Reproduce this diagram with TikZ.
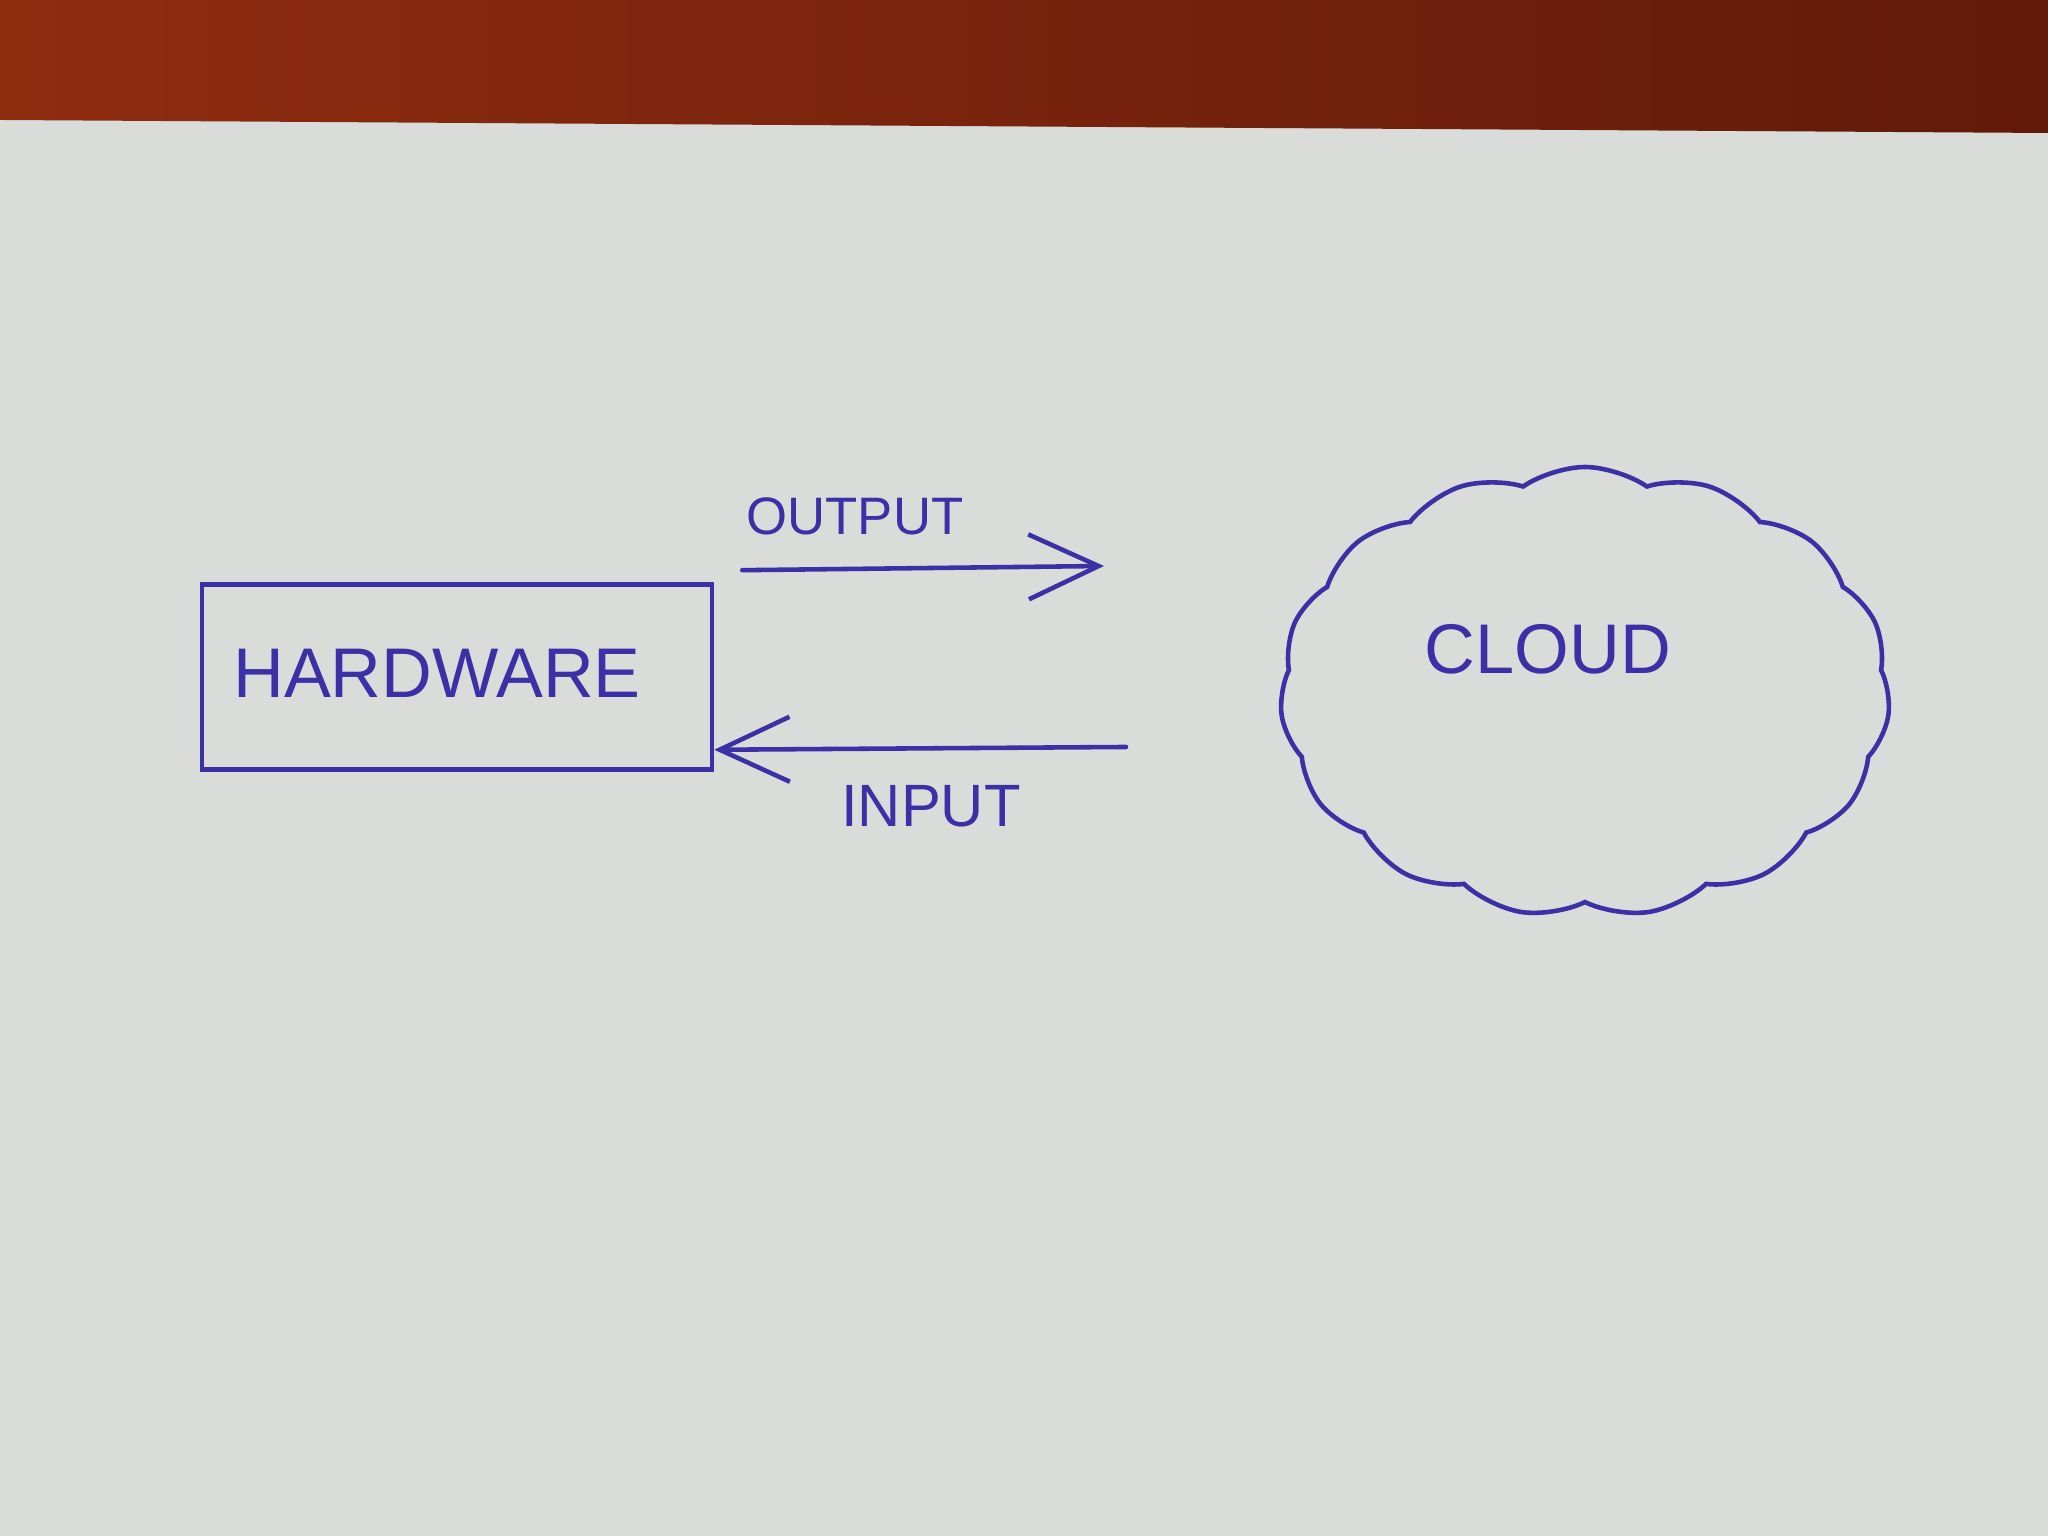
\documentclass[tikz,border=0pt]{standalone}
\usepackage{fontspec}
\setmainfont{Liberation Sans}
\usepackage{tikz}
\usetikzlibrary{arrows.meta,positioning,shapes.symbols}
\usepackage{xcolor}
\definecolor{pen}{HTML}{3B30A6}
\definecolor{paper}{HTML}{DADCD9}
\definecolor{desk}{HTML}{8E2C10}
\definecolor{deskdark}{HTML}{621A09}

\begin{document}
\begin{tikzpicture}[
  ink/.style={draw=pen,line width=1.3pt,line cap=round},
  barb/.style={pen,line width=1.3pt,line cap=round,-{Straight Barb[length=7mm,width=6.5mm]}},
  word/.style={text=pen,font=\fontsize{#1}{#1}\selectfont},
]
  % sheet of paper on the desk
  \fill[paper] (0,0) rectangle (20.48,15.36);
  \shade[left color=desk,middle color=desk!85!deskdark,right color=deskdark]
     (0,15.36) -- (20.48,15.36) -- (20.48,14.03) -- (0,14.16) -- cycle;
  \useasboundingbox (0,0) rectangle (20.48,15.36);
  % the two blocks
  \node[ink,minimum width=5.1cm,minimum height=1.85cm] (hw) at (4.57,8.59) {};
  \node[word=20] (hwtext) at (4.37,8.63) {HARDWARE};
  \node[ink,cloud,cloud puffs=15,cloud puff arc=70,cloud ignores aspect,
        minimum width=6.1cm,minimum height=4.5cm] (cl) at (15.85,8.44) {};
  \node[word=20] (cltext) at (15.48,8.87) {CLOUD};
  % data going out and coming back
  \coordinate (outEnd) at (11.04,9.70);
  \coordinate (inStart) at (11.26,7.89);
  \draw[barb] ([xshift=0.28cm,yshift=0.12cm]hw.north east) -- (outEnd);
  \node[word=15] (outlbl) at (8.55,10.20) {OUTPUT};
  \draw[barb] (inStart) -- ([yshift=0.22cm]hw.south east);
  \node[word=17] (inlbl) at (9.31,7.30) {INPUT};
\end{tikzpicture}
\end{document}
